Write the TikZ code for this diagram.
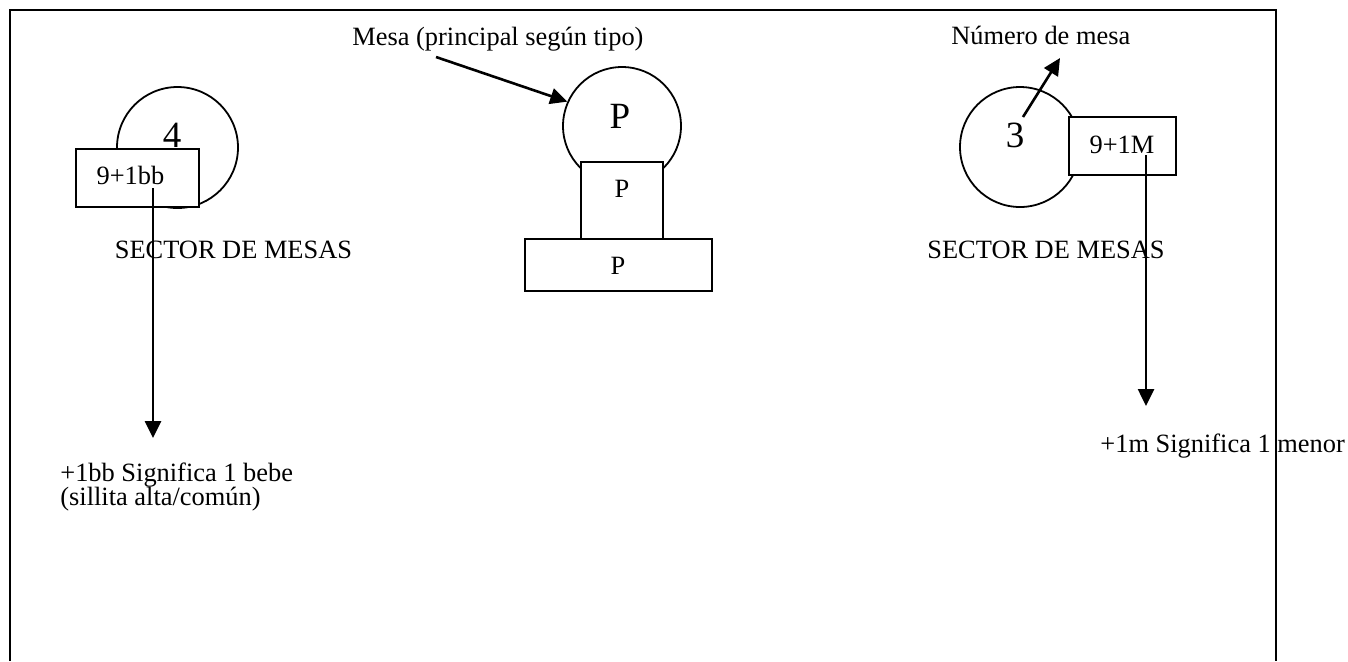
\documentclass[tikz,border=0pt]{standalone}
\usepackage{fontspec}
\setmainfont{Liberation Serif}
\usetikzlibrary{arrows.meta}
\begin{document}
\begin{tikzpicture}[x=0.5pt,y=-0.5pt,
    mesa/.style={draw,circle,line width=0.9pt,inner sep=0pt},
    caja/.style={draw,rectangle,line width=0.9pt,fill=white,inner sep=0pt},
    flecha/.style={line width=1.3pt,-{Triangle[length=8.5pt,width=8pt]}},
    texto/.style={inner sep=0pt,font=\fontsize{13.2}{15}\selectfont},
    grande/.style={inner sep=0pt,font=\fontsize{18.5}{20}\selectfont}]
                \useasboundingbox (0,0) rectangle (1348,661);
                \draw[line width=1pt] (9.5,661) -- (9.5,9.5) -- (1276,9.5) -- (1276,661);
                \node[mesa,minimum size=60.5pt] (mesa4) at (177.5,147.5) {};
                \node[grande,anchor=base] (num4) at (172,147) {4};
                \node[caja,minimum width=61.5pt,minimum height=29pt] (cupo4) at (137.5,178) {};
                \node[texto,anchor=base] (txt4) at (130.5,184) {9+1bb};
                \node[texto,anchor=base] (sector1) at (233.5,258) {SECTOR DE MESAS};
                \node[texto,anchor=base west,align=left] (nota1) at (60,505) {+1bb Significa 1 bebe\\[-3pt](sillita alta/común)};
                \coordinate (ini1) at (153,188);
                \coordinate (fin1) at (153,438);
                \draw[flecha] (ini1) -- (fin1);
                \node[mesa,minimum size=59pt] (mesaP) at (622,126) {};
                \node[grande,anchor=base] (numP) at (620,128) {P};
                \node[caja,minimum width=41pt,minimum height=38.5pt] (cabP) at (622,200.5) {};
                \node[texto,anchor=base] (txtcab) at (622,197) {P};
                \node[caja,minimum width=93.5pt,minimum height=26pt] (baseP) at (618.5,265) {};
                \node[texto,anchor=base] (txtbase) at (618,274) {P};
                \node[texto,anchor=base west] (princ) at (352,45) {Mesa (principal según tipo)};
                \coordinate (ini2) at (436,57);
                \draw[flecha] (ini2) -- (mesaP.156);
                \node[mesa,minimum size=60pt] (mesa3) at (1020,147) {};
                \node[grande,anchor=base] (num3) at (1015,147) {3};
                \node[caja,minimum width=53.5pt,minimum height=29pt] (cupo3) at (1122.5,146) {};
                \node[texto,anchor=base] (txt3) at (1122,153) {9+1M};
                \node[texto,anchor=base west] (numero) at (951,44) {Número de mesa};
                \coordinate (ini3) at (1023,117);
                \coordinate (fin3) at (1060,58);
                \draw[flecha] (ini3) -- (fin3);
                \node[texto,anchor=base] (sector2) at (1046,258) {SECTOR DE MESAS};
                \coordinate (ini4) at (1146,155);
                \coordinate (fin4) at (1146,406);
                \draw[flecha] (ini4) -- (fin4);
                \node[texto,anchor=base west] (nota2) at (1100,452) {+1m Significa 1 menor};
            \end{tikzpicture}
\end{document}
